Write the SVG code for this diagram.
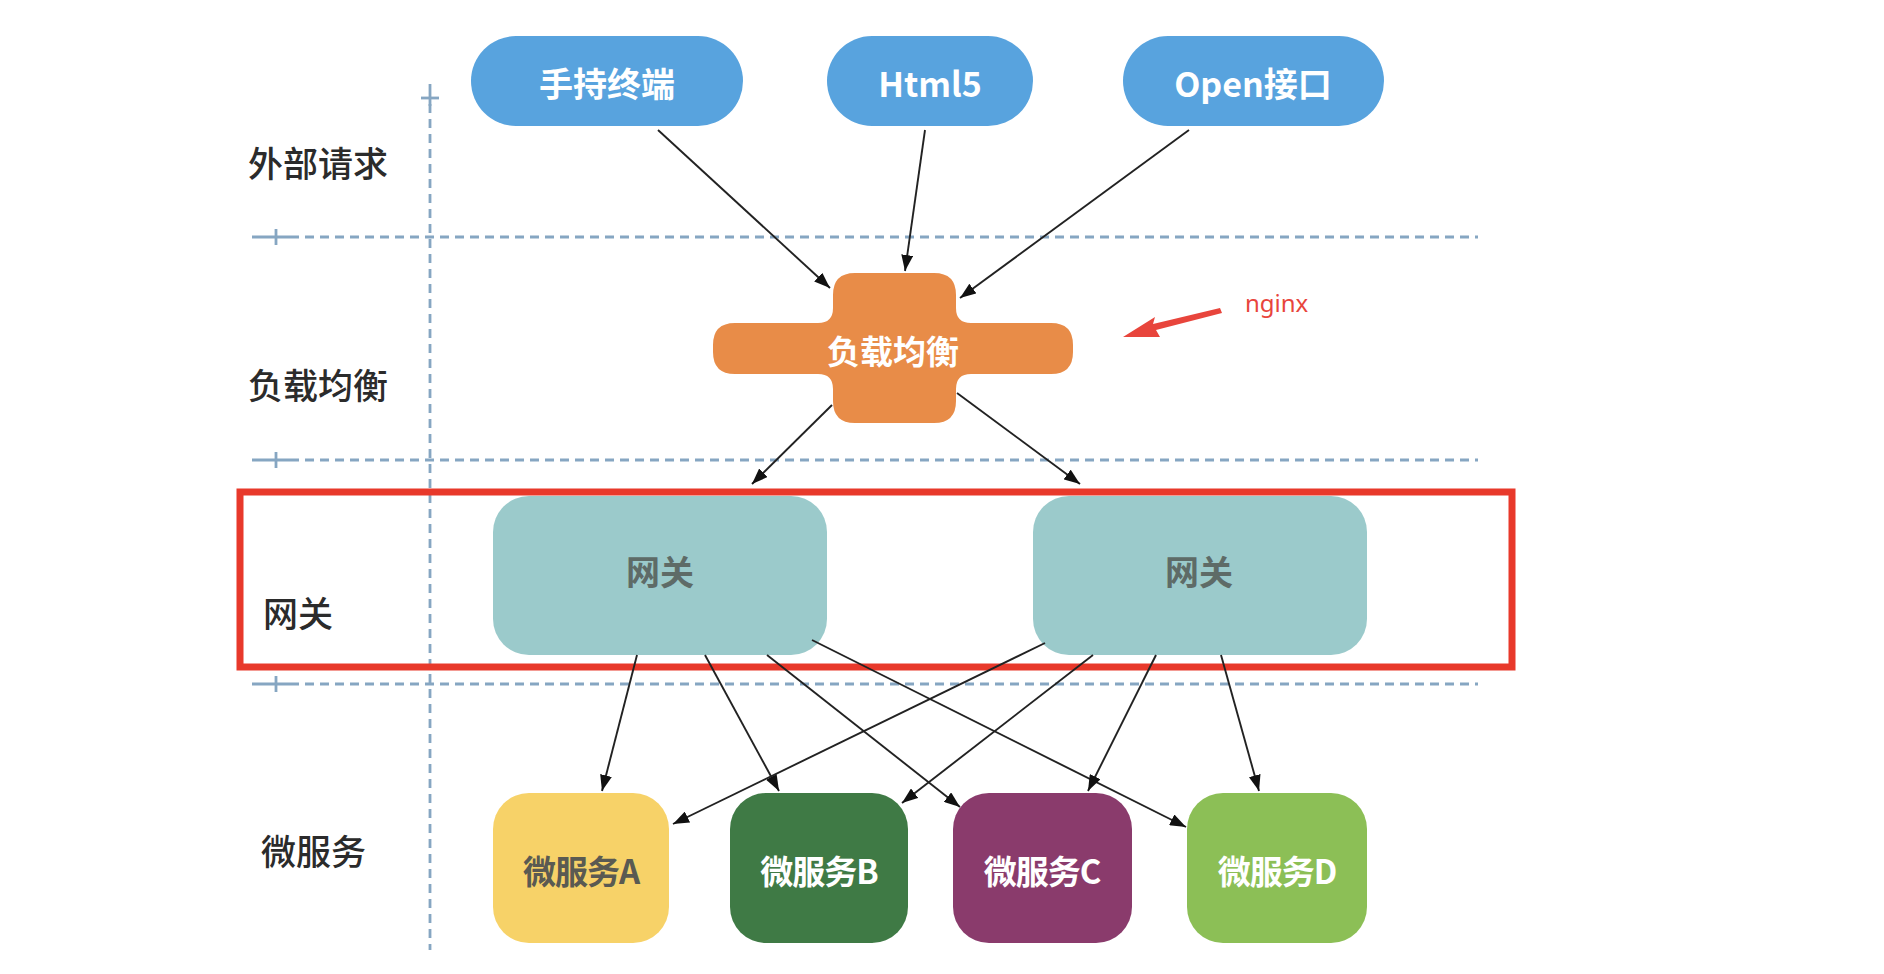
<svg xmlns="http://www.w3.org/2000/svg" width="1884" height="974" viewBox="0 0 1884 974">
<defs>
<style>
.lbl{font-family:"Noto Sans CJK SC","Noto Sans",sans-serif;font-size:35px;fill:#2b2b2b;font-weight:500}
.pill{fill:#58A3DE}
.pt{font-family:"Noto Sans CJK SC","Noto Sans",sans-serif;font-size:34px;font-weight:700;fill:#ffffff;text-anchor:middle;dominant-baseline:central}
.gw{fill:#9BCACB}
.gt{font-family:"Noto Sans CJK SC","Noto Sans",sans-serif;font-size:34px;font-weight:700;fill:#5E6B67;text-anchor:middle;dominant-baseline:central}
.mt{font-family:"Noto Sans CJK SC","Noto Sans",sans-serif;font-size:33px;font-weight:700;text-anchor:middle;dominant-baseline:central;letter-spacing:-1px}
.dash{stroke:#86A6C2;stroke-width:2.8;stroke-dasharray:9 6;fill:none}
.tick{stroke:#86A6C2;stroke-width:2.8;fill:none}
.con{stroke:#222;stroke-width:1.9;fill:none;marker-end:url(#ah)}
</style>
<marker id="ah" viewBox="0 0 16 12" refX="16" refY="6" markerWidth="16" markerHeight="12" markerUnits="userSpaceOnUse" orient="auto">
<path d="M0,0 L16,6 L0,12 z" fill="#111"/>
</marker>
</defs>
<rect width="1884" height="974" fill="#ffffff"/>

<g id="grid">
<line class="dash" x1="430" y1="104" x2="430" y2="950"/>
<line class="tick" x1="421" y1="98" x2="439" y2="98"/>
<line class="tick" x1="430" y1="84" x2="430" y2="106"/>
<line class="dash" x1="290" y1="237" x2="1478" y2="237"/>
<line class="tick" x1="252" y1="237" x2="290" y2="237"/>
<line class="tick" x1="276" y1="229" x2="276" y2="245"/>
<line class="dash" x1="290" y1="460" x2="1478" y2="460"/>
<line class="tick" x1="252" y1="460" x2="290" y2="460"/>
<line class="tick" x1="276" y1="452" x2="276" y2="468"/>
<line class="dash" x1="290" y1="684" x2="1478" y2="684"/>
<line class="tick" x1="252" y1="684" x2="290" y2="684"/>
<line class="tick" x1="276" y1="676" x2="276" y2="692"/>
</g>

<g id="labels">
<text class="lbl" x="248" y="177">外部请求</text>
<text class="lbl" x="248" y="399">负载均衡</text>
<text class="lbl" x="263" y="627">网关</text>
<text class="lbl" x="261" y="865">微服务</text>
</g>

<g id="node-handheld">
<rect class="pill" x="471" y="36" width="272" height="90" rx="45"/>
<text class="pt" x="607" y="82">手持终端</text>
</g>
<g id="node-html5">
<rect class="pill" x="827" y="36" width="206" height="90" rx="45"/>
<text class="pt" x="930" y="82">Html5</text>
</g>
<g id="node-open">
<rect class="pill" x="1123" y="36" width="261" height="90" rx="45"/>
<text class="pt" x="1253" y="82">Open接口</text>
</g>

<g id="node-lb">
<path fill="#E88C48" d="M855,273 H934 Q956,273 956,295 V308 Q956,323 971,323 H1051 Q1073,323 1073,345 V352 Q1073,374 1051,374 H971 Q956,374 956,389 V401 Q956,423 934,423 H855 Q833,423 833,401 V389 Q833,374 818,374 H735 Q713,374 713,352 V345 Q713,323 735,323 H818 Q833,323 833,308 V295 Q833,273 855,273 Z"/>
<text class="pt" x="893" y="350" style="font-size:33px">负载均衡</text>
</g>

<g id="node-gateway-1">
<rect class="gw" x="493" y="496" width="334" height="159" rx="36"/>
<text class="gt" x="660" y="570">网关</text>
</g>
<g id="node-gateway-2">
<rect class="gw" x="1033" y="496" width="334" height="159" rx="36"/>
<text class="gt" x="1199" y="570">网关</text>
</g>

<g id="highlight">
<rect x="240" y="492" width="1272" height="175" fill="none" stroke="#E8392B" stroke-width="7"/>
</g>

<g id="node-ms-a">
<rect x="493" y="793" width="176" height="150" rx="36" fill="#F7D268"/>
<text class="mt" x="581" y="870" fill="#5A5A52">微服务A</text>
</g>
<g id="node-ms-b">
<rect x="730" y="793" width="178" height="150" rx="36" fill="#3F7A45"/>
<text class="mt" x="819" y="870" fill="#ffffff">微服务B</text>
</g>
<g id="node-ms-c">
<rect x="953" y="793" width="179" height="150" rx="36" fill="#8A3B6C"/>
<text class="mt" x="1042" y="870" fill="#ffffff">微服务C</text>
</g>
<g id="node-ms-d">
<rect x="1187" y="793" width="180" height="150" rx="36" fill="#8CBF56"/>
<text class="mt" x="1277" y="870" fill="#ffffff">微服务D</text>
</g>

<g id="connectors">
<line class="con" x1="658" y1="130" x2="830" y2="288"/>
<line class="con" x1="925" y1="130" x2="905" y2="271"/>
<line class="con" x1="1189" y1="130" x2="960" y2="298"/>
<line class="con" x1="832" y1="405" x2="752" y2="484"/>
<line class="con" x1="957" y1="393" x2="1080" y2="484"/>
<line class="con" x1="637" y1="655" x2="602" y2="791"/>
<line class="con" x1="705" y1="655" x2="779" y2="791"/>
<line class="con" x1="767" y1="655" x2="960" y2="807"/>
<line class="con" x1="812" y1="640" x2="1186" y2="827"/>
<line class="con" x1="1045" y1="643" x2="673" y2="824"/>
<line class="con" x1="1093" y1="655" x2="902" y2="803"/>
<line class="con" x1="1156" y1="655" x2="1088" y2="791"/>
<line class="con" x1="1221" y1="655" x2="1259" y2="791"/>
</g>

<g id="annotation">
<path d="M1220,308 L1153,324 L1155,317 L1123,337 L1160,337 L1156,330 L1222,313 Z" fill="#E8453C"/>
<text x="1245" y="312" style="font-family:'Noto Sans','Liberation Sans',sans-serif;font-size:24px;fill:#E8453C">nginx</text>
</g>
</svg>
